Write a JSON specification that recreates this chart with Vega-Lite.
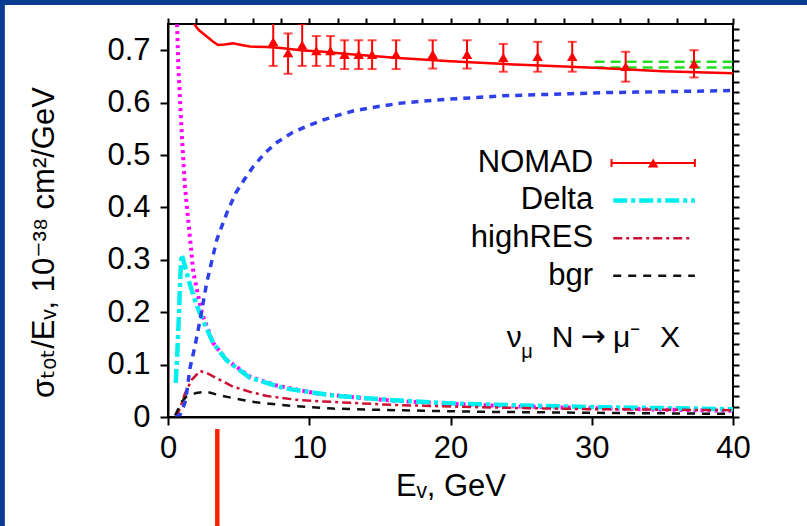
{
  "$schema": "https://vega.github.io/schema/vega-lite/v6.json",
  "width": 565,
  "height": 393,
  "autosize": {"type": "none"},
  "padding": {"left": 168, "top": 24, "right": 74, "bottom": 109},
  "background": "white",
  "datasets": {
    "nomad": [
      {"e": 7.45, "v": 0.716, "lo": 0.670, "hi": 0.762},
      {"e": 8.5, "v": 0.695, "lo": 0.655, "hi": 0.732},
      {"e": 9.5, "v": 0.710, "lo": 0.670, "hi": 0.750},
      {"e": 10.5, "v": 0.699, "lo": 0.670, "hi": 0.727},
      {"e": 11.5, "v": 0.699, "lo": 0.670, "hi": 0.727},
      {"e": 12.5, "v": 0.692, "lo": 0.664, "hi": 0.719},
      {"e": 13.5, "v": 0.692, "lo": 0.664, "hi": 0.719},
      {"e": 14.45, "v": 0.692, "lo": 0.664, "hi": 0.719},
      {"e": 16.15, "v": 0.692, "lo": 0.664, "hi": 0.719},
      {"e": 18.74, "v": 0.692, "lo": 0.665, "hi": 0.719},
      {"e": 21.17, "v": 0.692, "lo": 0.665, "hi": 0.719},
      {"e": 23.74, "v": 0.686, "lo": 0.659, "hi": 0.712},
      {"e": 26.17, "v": 0.688, "lo": 0.659, "hi": 0.716},
      {"e": 28.62, "v": 0.688, "lo": 0.659, "hi": 0.716},
      {"e": 32.4, "v": 0.669, "lo": 0.640, "hi": 0.697},
      {"e": 37.24, "v": 0.674, "lo": 0.648, "hi": 0.700}
    ],
    "curves": [
      {"s": "theory", "e": 1.5, "v": 0.785},
      {"s": "theory", "e": 1.84, "v": 0.750},
      {"s": "theory", "e": 2.2, "v": 0.738},
      {"s": "theory", "e": 2.75, "v": 0.726},
      {"s": "theory", "e": 3.2, "v": 0.716},
      {"s": "theory", "e": 3.55, "v": 0.710},
      {"s": "theory", "e": 4.0, "v": 0.711},
      {"s": "theory", "e": 4.6, "v": 0.713},
      {"s": "theory", "e": 5.2, "v": 0.710},
      {"s": "theory", "e": 5.8, "v": 0.707},
      {"s": "theory", "e": 7.0, "v": 0.706},
      {"s": "theory", "e": 8.0, "v": 0.704},
      {"s": "theory", "e": 9.4, "v": 0.700},
      {"s": "theory", "e": 11.0, "v": 0.697},
      {"s": "theory", "e": 12.5, "v": 0.693},
      {"s": "theory", "e": 14.5, "v": 0.689},
      {"s": "theory", "e": 16.3, "v": 0.685},
      {"s": "theory", "e": 20.0, "v": 0.679},
      {"s": "theory", "e": 25.0, "v": 0.672},
      {"s": "theory", "e": 30.6, "v": 0.666},
      {"s": "theory", "e": 35.0, "v": 0.660},
      {"s": "theory", "e": 40.0, "v": 0.656},
      {"s": "greenA", "e": 30.2, "v": 0.678},
      {"s": "greenA", "e": 40.0, "v": 0.678},
      {"s": "greenB", "e": 30.2, "v": 0.667},
      {"s": "greenB", "e": 40.0, "v": 0.667},
      {"s": "blue", "e": 0.55, "v": 0.0},
      {"s": "blue", "e": 0.85, "v": 0.004},
      {"s": "blue", "e": 1.2, "v": 0.027},
      {"s": "blue", "e": 1.32, "v": 0.046},
      {"s": "blue", "e": 1.56, "v": 0.094},
      {"s": "blue", "e": 1.9, "v": 0.134},
      {"s": "blue", "e": 2.27, "v": 0.185},
      {"s": "blue", "e": 2.74, "v": 0.256},
      {"s": "blue", "e": 3.45, "v": 0.338},
      {"s": "blue", "e": 4.16, "v": 0.389},
      {"s": "blue", "e": 4.8, "v": 0.428},
      {"s": "blue", "e": 5.45, "v": 0.455},
      {"s": "blue", "e": 6.04, "v": 0.478},
      {"s": "blue", "e": 6.87, "v": 0.504},
      {"s": "blue", "e": 7.7, "v": 0.524},
      {"s": "blue", "e": 8.76, "v": 0.542},
      {"s": "blue", "e": 9.82, "v": 0.555},
      {"s": "blue", "e": 11.0, "v": 0.567},
      {"s": "blue", "e": 12.06, "v": 0.576},
      {"s": "blue", "e": 13.1, "v": 0.584},
      {"s": "blue", "e": 14.3, "v": 0.590},
      {"s": "blue", "e": 15.5, "v": 0.595},
      {"s": "blue", "e": 16.5, "v": 0.599},
      {"s": "blue", "e": 19.0, "v": 0.605},
      {"s": "blue", "e": 21.4, "v": 0.609},
      {"s": "blue", "e": 23.7, "v": 0.613},
      {"s": "blue", "e": 26.1, "v": 0.615},
      {"s": "blue", "e": 28.5, "v": 0.617},
      {"s": "blue", "e": 30.8, "v": 0.619},
      {"s": "blue", "e": 33.2, "v": 0.620},
      {"s": "blue", "e": 35.5, "v": 0.621},
      {"s": "blue", "e": 40.0, "v": 0.623},
      {"s": "magenta", "e": 0.52, "v": 0.95},
      {"s": "magenta", "e": 0.6, "v": 0.79},
      {"s": "magenta", "e": 0.73, "v": 0.669},
      {"s": "magenta", "e": 0.85, "v": 0.605},
      {"s": "magenta", "e": 0.97, "v": 0.542},
      {"s": "magenta", "e": 1.2, "v": 0.440},
      {"s": "magenta", "e": 1.5, "v": 0.357},
      {"s": "magenta", "e": 1.8, "v": 0.275},
      {"s": "magenta", "e": 2.4, "v": 0.198},
      {"s": "magenta", "e": 3.2, "v": 0.141},
      {"s": "magenta", "e": 4.15, "v": 0.109},
      {"s": "magenta", "e": 5.8, "v": 0.077},
      {"s": "magenta", "e": 7.7, "v": 0.060},
      {"s": "magenta", "e": 10.5, "v": 0.045},
      {"s": "magenta", "e": 13.4, "v": 0.037},
      {"s": "magenta", "e": 16.0, "v": 0.031},
      {"s": "magenta", "e": 20.0, "v": 0.025},
      {"s": "magenta", "e": 25.0, "v": 0.020},
      {"s": "magenta", "e": 30.0, "v": 0.017},
      {"s": "magenta", "e": 35.0, "v": 0.014},
      {"s": "magenta", "e": 40.0, "v": 0.012},
      {"s": "Delta", "e": 0.55, "v": 0.065},
      {"s": "Delta", "e": 0.66, "v": 0.122},
      {"s": "Delta", "e": 0.78, "v": 0.198},
      {"s": "Delta", "e": 0.87, "v": 0.268},
      {"s": "Delta", "e": 0.97, "v": 0.310},
      {"s": "Delta", "e": 1.2, "v": 0.288},
      {"s": "Delta", "e": 1.5, "v": 0.258},
      {"s": "Delta", "e": 2.0, "v": 0.215},
      {"s": "Delta", "e": 2.5, "v": 0.183},
      {"s": "Delta", "e": 3.2, "v": 0.141},
      {"s": "Delta", "e": 4.15, "v": 0.108},
      {"s": "Delta", "e": 5.8, "v": 0.075},
      {"s": "Delta", "e": 8.2, "v": 0.055},
      {"s": "Delta", "e": 11.7, "v": 0.041},
      {"s": "Delta", "e": 16.0, "v": 0.032},
      {"s": "Delta", "e": 20.0, "v": 0.026},
      {"s": "Delta", "e": 25.0, "v": 0.022},
      {"s": "Delta", "e": 30.0, "v": 0.019},
      {"s": "Delta", "e": 35.0, "v": 0.017},
      {"s": "Delta", "e": 40.0, "v": 0.015},
      {"s": "highRES", "e": 0.57, "v": 0.0},
      {"s": "highRES", "e": 0.9, "v": 0.02},
      {"s": "highRES", "e": 1.2, "v": 0.045},
      {"s": "highRES", "e": 1.68, "v": 0.071},
      {"s": "highRES", "e": 2.27, "v": 0.088},
      {"s": "highRES", "e": 2.8, "v": 0.083},
      {"s": "highRES", "e": 3.45, "v": 0.074},
      {"s": "highRES", "e": 4.6, "v": 0.058},
      {"s": "highRES", "e": 5.8, "v": 0.048},
      {"s": "highRES", "e": 7.0, "v": 0.040},
      {"s": "highRES", "e": 9.35, "v": 0.032},
      {"s": "highRES", "e": 12.9, "v": 0.027},
      {"s": "highRES", "e": 16.0, "v": 0.023},
      {"s": "highRES", "e": 20.0, "v": 0.020},
      {"s": "highRES", "e": 25.0, "v": 0.017},
      {"s": "highRES", "e": 30.0, "v": 0.015},
      {"s": "highRES", "e": 35.0, "v": 0.014},
      {"s": "highRES", "e": 40.0, "v": 0.013},
      {"s": "bgr", "e": 0.5, "v": 0.003},
      {"s": "bgr", "e": 0.97, "v": 0.029},
      {"s": "bgr", "e": 1.3, "v": 0.039},
      {"s": "bgr", "e": 2.0, "v": 0.046},
      {"s": "bgr", "e": 2.74, "v": 0.048},
      {"s": "bgr", "e": 3.7, "v": 0.041},
      {"s": "bgr", "e": 4.8, "v": 0.035},
      {"s": "bgr", "e": 5.8, "v": 0.030},
      {"s": "bgr", "e": 6.5, "v": 0.027},
      {"s": "bgr", "e": 8.9, "v": 0.021},
      {"s": "bgr", "e": 11.7, "v": 0.016},
      {"s": "bgr", "e": 14.5, "v": 0.014},
      {"s": "bgr", "e": 18.0, "v": 0.012},
      {"s": "bgr", "e": 22.0, "v": 0.010},
      {"s": "bgr", "e": 26.0, "v": 0.009},
      {"s": "bgr", "e": 30.0, "v": 0.008},
      {"s": "bgr", "e": 35.0, "v": 0.007},
      {"s": "bgr", "e": 40.0, "v": 0.006}
    ]
  },
  "layer": [
    {
      "layer": [
        {
          "data": {"name": "curves"},
          "transform": [{"filter": "datum.s == 'magenta'"}],
          "mark": {"type": "line", "clip": true, "color": "#ff00ff", "strokeWidth": 4, "strokeDash": [3, 4]},
          "encoding": {
            "x": {"field": "e", "type": "quantitative", "scale": {"domain": [0, 40], "nice": false, "zero": false},
              "axis": {"values": [0, 10, 20, 30, 40], "format": "d", "domain": true, "ticks": true, "zindex": 2,
                "labelOverlap": false, "labelFlush": false, "labelPadding": 8, "tickSize": 8, "tickColor": "#000000", "tickWidth": 2, "tickOpacity": 1,
                "title": "Eᵥ, GeV", "titlePadding": 8}},
            "y": {"field": "v", "type": "quantitative", "scale": {"domain": [0, 0.75], "nice": false, "zero": false},
              "axis": {"values": [0, 0.1, 0.2, 0.3, 0.4, 0.5, 0.6, 0.7], "format": ".1~f", "domain": true, "ticks": true, "zindex": 2,
                "labelOverlap": false, "labelFlush": false, "labelPadding": 10, "tickSize": 8, "tickColor": "#000000", "tickWidth": 2, "tickOpacity": 1,
                "title": "σₜₒₜ/Eᵥ, 10⁻³⁸ cm²/GeV", "titlePadding": 46, "titleY": 218}}
          }
        },
        {
          "data": {"name": "curves"},
          "transform": [{"filter": "datum.s == 'Delta'"}],
          "mark": {"type": "line", "clip": true, "color": "#00eeee", "strokeWidth": 4.5, "strokeDash": [14, 4, 4, 4]},
          "encoding": {"x": {"field": "e", "type": "quantitative"}, "y": {"field": "v", "type": "quantitative"}}
        },
        {
          "data": {"name": "curves"},
          "transform": [{"filter": "datum.s == 'highRES'"}],
          "mark": {"type": "line", "clip": true, "color": "#cc1133", "strokeWidth": 2.5, "strokeDash": [9, 4, 3, 4]},
          "encoding": {"x": {"field": "e", "type": "quantitative"}, "y": {"field": "v", "type": "quantitative"}}
        },
        {
          "data": {"name": "curves"},
          "transform": [{"filter": "datum.s == 'bgr'"}],
          "mark": {"type": "line", "clip": true, "color": "#111111", "strokeWidth": 2.5, "strokeDash": [8, 7]},
          "encoding": {"x": {"field": "e", "type": "quantitative"}, "y": {"field": "v", "type": "quantitative"}}
        },
        {
          "data": {"name": "curves"},
          "transform": [{"filter": "datum.s == 'blue'"}],
          "mark": {"type": "line", "clip": true, "color": "#2f3fea", "strokeWidth": 3.5, "strokeDash": [7, 6]},
          "encoding": {"x": {"field": "e", "type": "quantitative"}, "y": {"field": "v", "type": "quantitative"}}
        },
        {
          "data": {"name": "curves"},
          "transform": [{"filter": "datum.s == 'greenA' || datum.s == 'greenB'"}],
          "mark": {"type": "line", "clip": true, "color": "#22dd22", "strokeWidth": 2.5, "strokeDash": [10, 6]},
          "encoding": {"x": {"field": "e", "type": "quantitative"}, "y": {"field": "v", "type": "quantitative"}, "detail": {"field": "s"}}
        },
        {
          "data": {"name": "curves"},
          "transform": [{"filter": "datum.s == 'theory'"}],
          "mark": {"type": "line", "clip": true, "color": "#ff0000", "strokeWidth": 2.5},
          "encoding": {"x": {"field": "e", "type": "quantitative"}, "y": {"field": "v", "type": "quantitative"}}
        },
        {
          "data": {"name": "nomad"},
          "mark": {"type": "rule", "clip": true, "color": "#ff0000", "strokeWidth": 2},
          "encoding": {"x": {"field": "e", "type": "quantitative"}, "y": {"field": "lo", "type": "quantitative"}, "y2": {"field": "hi"}}
        },
        {
          "data": {"name": "nomad"},
          "mark": {"type": "tick", "clip": true, "orient": "horizontal", "color": "#ff0000", "size": 9, "thickness": 2},
          "encoding": {"x": {"field": "e", "type": "quantitative"}, "y": {"field": "lo", "type": "quantitative"}}
        },
        {
          "data": {"name": "nomad"},
          "mark": {"type": "tick", "clip": true, "orient": "horizontal", "color": "#ff0000", "size": 9, "thickness": 2},
          "encoding": {"x": {"field": "e", "type": "quantitative"}, "y": {"field": "hi", "type": "quantitative"}}
        },
        {
          "data": {"name": "nomad"},
          "mark": {"type": "point", "clip": true, "shape": "triangle-up", "filled": true, "color": "#ff0000", "size": 110, "opacity": 1},
          "encoding": {"x": {"field": "e", "type": "quantitative"}, "y": {"field": "v", "type": "quantitative"}}
        },
        {
          "data": {"values": [{"label": "NOMAD"}]},
          "mark": {"type": "text", "align": "right", "baseline": "alphabetic", "font": "Liberation Sans", "fontSize": 31, "color": "#000"},
          "encoding": {"x": {"datum": 30.1}, "y": {"datum": 0.4681}, "text": {"field": "label"}}
        },
        {
          "data": {"values": [{"label": "Delta"}]},
          "mark": {"type": "text", "align": "right", "baseline": "alphabetic", "font": "Liberation Sans", "fontSize": 31, "color": "#000"},
          "encoding": {"x": {"datum": 30.1}, "y": {"datum": 0.396}, "text": {"field": "label"}}
        },
        {
          "data": {"values": [{"label": "highRES"}]},
          "mark": {"type": "text", "align": "right", "baseline": "alphabetic", "font": "Liberation Sans", "fontSize": 31, "color": "#000"},
          "encoding": {"x": {"datum": 30.1}, "y": {"datum": 0.3238}, "text": {"field": "label"}}
        },
        {
          "data": {"values": [{"label": "bgr"}]},
          "mark": {"type": "text", "align": "right", "baseline": "alphabetic", "font": "Liberation Sans", "fontSize": 31, "color": "#000"},
          "encoding": {"x": {"datum": 30.1}, "y": {"datum": 0.2519}, "text": {"field": "label"}}
        },
        {
          "data": {"values": [{}]},
          "mark": {"type": "rule", "color": "#ff0000", "strokeWidth": 2},
          "encoding": {"x": {"datum": 31.4}, "x2": {"datum": 37.3}, "y": {"datum": 0.4847}}
        },
        {
          "data": {"values": [{}]},
          "mark": {"type": "rule", "color": "#ff0000", "strokeWidth": 2},
          "encoding": {"x": {"datum": 31.4}, "y": {"datum": 0.4771}, "y2": {"datum": 0.4923}}
        },
        {
          "data": {"values": [{}]},
          "mark": {"type": "rule", "color": "#ff0000", "strokeWidth": 2},
          "encoding": {"x": {"datum": 37.3}, "y": {"datum": 0.4771}, "y2": {"datum": 0.4923}}
        },
        {
          "data": {"values": [{}]},
          "mark": {"type": "point", "shape": "triangle-up", "filled": true, "color": "#ff0000", "size": 110, "opacity": 1},
          "encoding": {"x": {"datum": 34.35}, "y": {"datum": 0.4847}}
        },
        {
          "data": {"values": [{}]},
          "mark": {"type": "rule", "color": "#00eeee", "strokeWidth": 4.5, "strokeDash": [14, 4, 4, 4]},
          "encoding": {"x": {"datum": 31.52}, "x2": {"datum": 37.3}, "y": {"datum": 0.4132}}
        },
        {
          "data": {"values": [{}]},
          "mark": {"type": "rule", "color": "#cc1133", "strokeWidth": 2.5, "strokeDash": [9, 4, 3, 4]},
          "encoding": {"x": {"datum": 31.52}, "x2": {"datum": 37.06}, "y": {"datum": 0.341}}
        },
        {
          "data": {"values": [{}]},
          "mark": {"type": "rule", "color": "#111111", "strokeWidth": 2.5, "strokeDash": [8, 7]},
          "encoding": {"x": {"datum": 31.52}, "x2": {"datum": 37.3}, "y": {"datum": 0.2697}}
        },
        {
          "data": {"values": [{"t": "ν"}]},
          "mark": {"type": "text", "align": "left", "baseline": "alphabetic", "font": "Liberation Sans", "fontSize": 30, "color": "#000"},
          "encoding": {"x": {"datum": 23.98}, "y": {"datum": 0.133}, "text": {"field": "t"}}
        },
        {
          "data": {"values": [{"t": "μ"}]},
          "mark": {"type": "text", "align": "left", "baseline": "alphabetic", "font": "Liberation Sans", "fontSize": 20, "color": "#000"},
          "encoding": {"x": {"datum": 25.0}, "y": {"datum": 0.112}, "text": {"field": "t"}}
        },
        {
          "data": {"values": [{"t": "N"}]},
          "mark": {"type": "text", "align": "left", "baseline": "alphabetic", "font": "Liberation Sans", "fontSize": 30, "color": "#000"},
          "encoding": {"x": {"datum": 27.16}, "y": {"datum": 0.133}, "text": {"field": "t"}}
        },
        {
          "data": {"values": [{"t": "→"}]},
          "mark": {"type": "text", "align": "left", "baseline": "alphabetic", "font": "DejaVu Sans", "fontSize": 30, "color": "#000"},
          "encoding": {"x": {"datum": 29.2}, "y": {"datum": 0.135}, "text": {"field": "t"}}
        },
        {
          "data": {"values": [{"t": "μ⁻"}]},
          "mark": {"type": "text", "align": "left", "baseline": "alphabetic", "font": "Liberation Sans", "fontSize": 30, "color": "#000"},
          "encoding": {"x": {"datum": 31.5}, "y": {"datum": 0.133}, "text": {"field": "t"}}
        },
        {
          "data": {"values": [{"t": "X"}]},
          "mark": {"type": "text", "align": "left", "baseline": "alphabetic", "font": "Liberation Sans", "fontSize": 30, "color": "#000"},
          "encoding": {"x": {"datum": 34.83}, "y": {"datum": 0.133}, "text": {"field": "t"}}
        },
        {
          "data": {"values": [{}]},
          "mark": {"type": "rule", "color": "#ff2200", "strokeWidth": 4.5},
          "encoding": {"x": {"datum": 3.49}, "y": {"datum": -0.023}, "y2": {"datum": -0.25}}
        },
        {
          "data": {"values": [{}]},
          "mark": {"type": "rect", "color": "#0a3d91"},
          "encoding": {"x": {"datum": -12.2}, "x2": {"datum": -11.55}, "y": {"datum": -0.25}, "y2": {"datum": 0.82}}
        },
        {
          "data": {"values": [{}]},
          "mark": {"type": "rect", "color": "#0a3d91"},
          "encoding": {"x": {"datum": -12.2}, "x2": {"datum": 45.5}, "y": {"datum": 0.7863}, "y2": {"datum": 0.82}}
        }
      ]
    },
    {
      "data": {"name": "nomad"},
      "mark": {"type": "point", "opacity": 0},
      "encoding": {
        "x": {"field": "e", "type": "quantitative", "scale": {"domain": [0, 40], "nice": false, "zero": false},
          "axis": {"orient": "top", "values": [0,2,4,6,8,10,12,14,16,18,20,22,24,26,28,30,32,34,36,38,40], "labels": false, "title": null, "domain": false, "tickSize": 6, "ticks": true, "zindex": 2, "tickColor": "#000000", "tickWidth": 2}},
        "y": {"field": "v", "type": "quantitative", "scale": {"domain": [0, 0.75], "nice": false, "zero": false},
          "axis": {"orient": "right", "values": [0,0.02,0.04,0.06,0.08,0.1,0.12,0.14,0.16,0.18,0.2,0.22,0.24,0.26,0.28,0.3,0.32,0.34,0.36,0.38,0.4,0.42,0.44,0.46,0.48,0.5,0.52,0.54,0.56,0.58,0.6,0.62,0.64,0.66,0.68,0.7,0.72,0.74], "labels": false, "title": null, "domain": false, "tickSize": 6, "ticks": true, "zindex": 2, "tickColor": "#000000", "tickWidth": 2}}
      }
    }
  ],
  "resolve": {"axis": {"x": "independent", "y": "independent"}},
  "config": {
    "view": {"stroke": "#000000", "strokeWidth": 2},
    "axis": {
      "labelFont": "Liberation Sans, DejaVu Sans",
      "titleFont": "Liberation Sans, DejaVu Sans",
      "labelFontSize": 31,
      "titleFontSize": 31,
      "titleFontWeight": "normal",
      "labelColor": "#000000",
      "titleColor": "#000000",
      "domainColor": "#000000",
      "domainWidth": 2,
      "grid": false
    }
  }
}
